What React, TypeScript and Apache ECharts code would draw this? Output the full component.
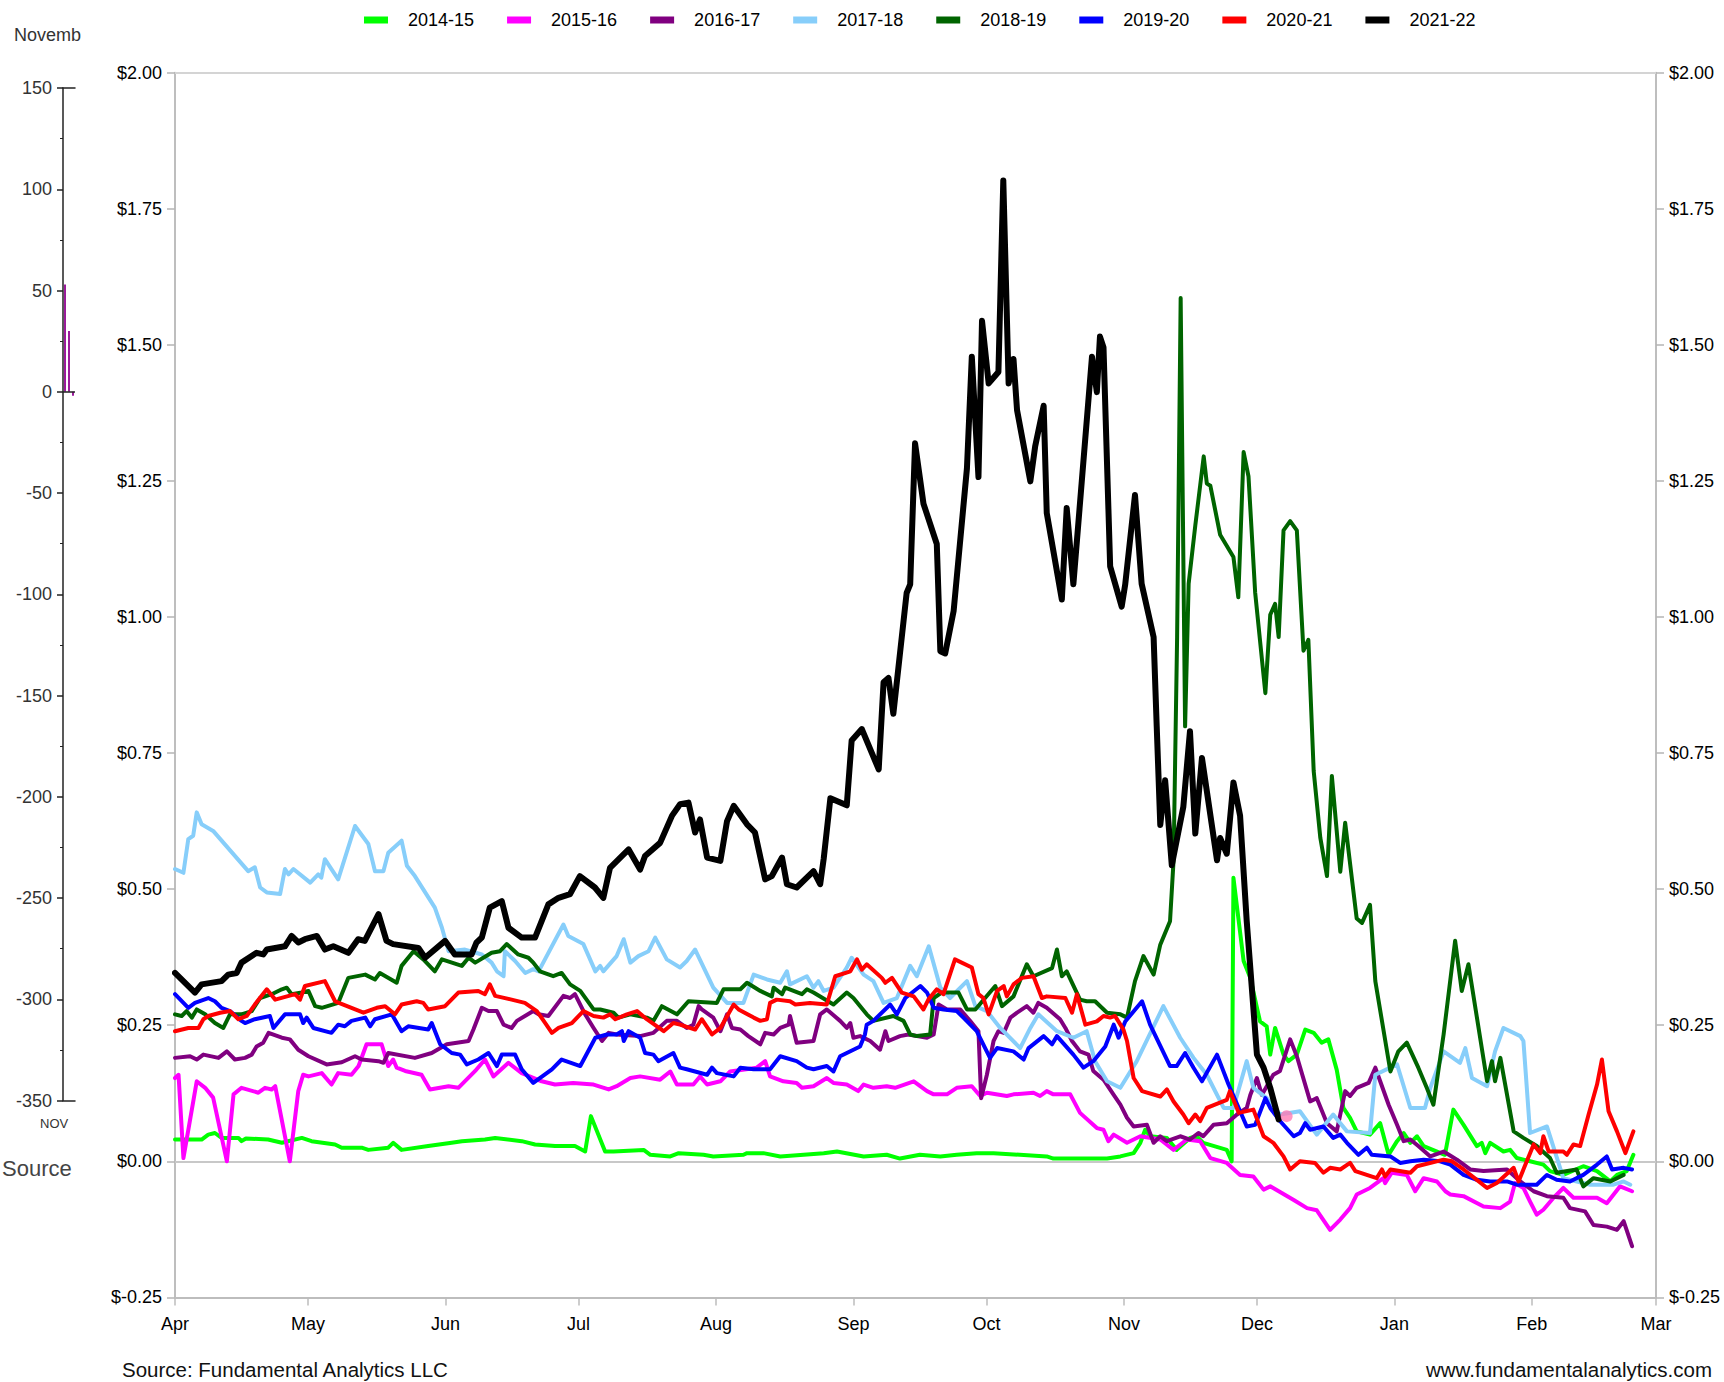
import React, { useEffect, useRef } from "react";
import * as echarts from "echarts";

// ---------- DATA ----------
// x = days since April 1 (season year), y = $ value
const monthTicks = [0, 30, 61, 91, 122, 153, 183, 214, 244, 275, 306, 334];
const monthLabels = ["Apr", "May", "Jun", "Jul", "Aug", "Sep", "Oct", "Nov", "Dec", "Jan", "Feb", "Mar"];

const seasonNames = ["2014-15", "2015-16", "2016-17", "2017-18", "2018-19", "2019-20", "2020-21", "2021-22"];
const seasonColors = ["#00ff00", "#ff00ff", "#800080", "#87cefa", "#006400", "#0000ff", "#ff0000", "#000000"];

const s1415 = [[0,0.040],[6,0.040],[7.5,0.049],[9,0.052],[10.5,0.043],[14.3,0.043],[15,0.037],[16,0.042],[21,0.040],[24.1,0.034],[28.6,0.043],[30.8,0.037],[36.1,0.031],[37.6,0.025],[42.1,0.025],[43.6,0.021],[48.1,0.025],[49.2,0.034],[51.1,0.021],[57.1,0.028],[62.4,0.034],[64.7,0.037],[69.9,0.040],[72.2,0.043],[78.2,0.037],[81.2,0.031],[85.7,0.028],[90.2,0.028],[92.5,0.018],[93.8,0.083],[97,0.018],[98.9,0.018],[105.7,0.021],[107.2,0.012],[111.7,0.009],[113.6,0.015],[119.2,0.012],[121.4,0.009],[128.2,0.012],[129,0.015],[132.7,0.015],[136.5,0.009],[146.3,0.015],[149.3,0.018],[155.3,0.009],[160.5,0.012],[163.5,0.005],[168,0.012],[172.6,0.009],[176.3,0.012],[180.8,0.015],[184.6,0.015],[196.6,0.009],[198.1,0.005],[210.2,0.005],[213.2,0.009],[216.2,0.015],[217.7,0.034],[218.8,0.058],[219.9,0.046],[223.7,0.043],[225.9,0.021],[228.9,0.043],[230.4,0.046],[231.9,0.034],[237.2,0.021],[238.3,0.000],[238.7,0.521],[241,0.368],[242.5,0.337],[244.7,0.257],[246.2,0.248],[247,0.196],[248.1,0.245],[250,0.196],[251.1,0.184],[253,0.196],[254.9,0.242],[256.8,0.236],[258.6,0.218],[260.1,0.224],[262,0.168],[263.5,0.098],[265,0.080],[266.5,0.055],[269.5,0.049],[271.8,0.070],[273.7,0.012],[275.6,0.037],[277.1,0.052],[278.6,0.034],[280.1,0.046],[281.6,0.028],[286.4,0.012],[288.3,0.095],[290.6,0.067],[293.6,0.028],[294.7,0.034],[295.5,0.015],[296.6,0.034],[299.6,0.018],[301.1,0.021],[302.6,0.006],[305.6,0.000],[308.6,-0.006],[310.1,-0.018],[313.1,-0.025],[317.6,-0.009],[320.7,-0.018],[323.7,-0.037],[325.2,-0.025],[327.4,-0.018],[328.9,0.012]];

const s1516 = [[0,0.153],[0.8,0.159],[1.9,0.006],[4.9,0.147],[6.8,0.135],[8.6,0.117],[11.7,0.000],[13.2,0.123],[15,0.135],[18.8,0.126],[20.3,0.135],[21.8,0.132],[22.6,0.138],[25.9,0.000],[27.8,0.129],[28.9,0.159],[30.1,0.156],[33.1,0.162],[35.3,0.141],[36.8,0.162],[39.8,0.159],[41.4,0.175],[43.2,0.215],[46.6,0.215],[48.1,0.175],[49.2,0.187],[50,0.172],[51.9,0.166],[55.6,0.159],[57.5,0.132],[61.7,0.138],[63.9,0.135],[67.7,0.166],[69.9,0.187],[71.8,0.156],[75.2,0.181],[78.2,0.162],[82.7,0.147],[85.7,0.141],[89.8,0.144],[94.4,0.141],[97.8,0.132],[99.6,0.138],[102.7,0.153],[104.9,0.156],[109.4,0.150],[111.7,0.165],[113.2,0.141],[116.9,0.141],[118.4,0.156],[120,0.141],[123,0.147],[125.2,0.165],[131.2,0.172],[133.1,0.184],[134.2,0.156],[137.2,0.147],[140.2,0.144],[141.4,0.135],[144,0.138],[147,0.153],[148.5,0.144],[151.5,0.141],[154.1,0.129],[155.3,0.141],[157.5,0.135],[160.5,0.138],[162.4,0.135],[166.6,0.147],[169.6,0.129],[171.1,0.123],[174.1,0.123],[176.3,0.135],[179.7,0.138],[181.6,0.120],[183.1,0.126],[187.6,0.120],[189.1,0.123],[193.6,0.126],[195.1,0.120],[196.6,0.129],[198.1,0.123],[201.9,0.123],[204.1,0.089],[207.9,0.061],[209.4,0.058],[210.5,0.037],[211.7,0.049],[214.7,0.034],[217.7,0.046],[222.2,0.040],[225.2,0.021],[228.2,0.040],[231.2,0.037],[233.5,0.006],[237.2,-0.003],[240.2,-0.025],[243.2,-0.028],[245.5,-0.052],[247,-0.046],[252.3,-0.071],[255.3,-0.086],[257.5,-0.090],[260.5,-0.126],[262.8,-0.107],[265,-0.086],[266.5,-0.061],[269.5,-0.049],[272.5,-0.031],[272.9,-0.040],[274.4,-0.021],[277.8,-0.025],[279.7,-0.055],[281.6,-0.031],[284.6,-0.037],[286.5,-0.055],[287.6,-0.061],[290.6,-0.064],[295.1,-0.083],[298.9,-0.086],[301.1,-0.074],[302.2,-0.040],[304.1,-0.049],[305.6,-0.074],[307.1,-0.098],[308.6,-0.089],[310.9,-0.067],[313.1,-0.049],[315.4,-0.067],[320.7,-0.067],[322.9,-0.077],[325.9,-0.046],[328.6,-0.055]];

const s1617 = [[0,0.190],[3.4,0.193],[4.9,0.187],[6.4,0.196],[9.8,0.190],[11.7,0.202],[13.5,0.187],[15.8,0.190],[17.3,0.196],[18.4,0.211],[19.9,0.218],[21.1,0.236],[24.1,0.227],[25.9,0.224],[27.8,0.205],[30.1,0.193],[34.2,0.178],[37.6,0.182],[40.6,0.193],[42.1,0.187],[45.9,0.184],[47,0.181],[48.1,0.199],[54.1,0.190],[57.9,0.199],[61.3,0.215],[66.2,0.221],[67.3,0.242],[69.2,0.282],[70.7,0.276],[72.6,0.276],[74.1,0.251],[75.9,0.245],[77.1,0.258],[80.8,0.276],[82,0.270],[84.2,0.267],[87.6,0.304],[89.1,0.300],[90.2,0.307],[92.5,0.270],[94.4,0.245],[96.3,0.221],[97.8,0.236],[99.6,0.233],[104.9,0.230],[107.9,0.236],[110.9,0.258],[113.2,0.258],[115.4,0.245],[116.9,0.251],[118.1,0.285],[118.8,0.279],[121.4,0.264],[123,0.239],[124.5,0.270],[125.6,0.245],[127.5,0.242],[129.3,0.230],[132,0.215],[133.1,0.236],[135,0.233],[136.5,0.245],[138.4,0.251],[138.7,0.267],[140.2,0.218],[144,0.221],[145.5,0.270],[147,0.279],[150,0.258],[151.5,0.245],[152.3,0.254],[153,0.227],[154.5,0.230],[156.8,0.221],[159,0.205],[160.2,0.239],[160.9,0.221],[163.5,0.230],[165.4,0.233],[169.6,0.227],[171.1,0.233],[172.2,0.288],[174.1,0.279],[177.1,0.279],[179.3,0.258],[181.2,0.239],[181.8,0.116],[183.1,0.159],[184.6,0.221],[185.7,0.239],[186.9,0.236],[188.4,0.264],[189.9,0.273],[192.1,0.285],[193.6,0.273],[194.7,0.291],[196.6,0.282],[199.6,0.261],[200.8,0.245],[202.3,0.221],[204.1,0.202],[206,0.196],[207.1,0.166],[209.4,0.150],[211.7,0.122],[213.2,0.104],[214.7,0.080],[216.2,0.064],[219.2,0.067],[220.7,0.034],[222.2,0.046],[223.7,0.037],[226.7,0.046],[228.9,0.040],[230.8,0.052],[231.9,0.046],[234.2,0.067],[237.2,0.070],[239.5,0.086],[241.7,0.098],[242.5,0.122],[244,0.153],[245.1,0.122],[247.7,0.159],[249.2,0.166],[251.5,0.224],[253,0.193],[256,0.110],[257.5,0.116],[259.8,0.070],[262,0.055],[263.9,0.129],[265,0.120],[266.5,0.135],[269.2,0.144],[270.7,0.172],[271.8,0.147],[273.7,0.104],[275.6,0.067],[277.1,0.037],[278.6,0.040],[280.4,0.028],[283.1,0.009],[286.1,0.018],[289.1,0.003],[292.1,-0.015],[295.1,-0.018],[300.4,-0.015],[303.4,-0.037],[306.4,-0.055],[309.4,-0.064],[313.1,-0.067],[314.6,-0.086],[318,-0.092],[319.9,-0.117],[322.9,-0.120],[325.2,-0.126],[326.7,-0.110],[328.6,-0.156]];

const s1718 = [[0,0.537],[1.9,0.530],[3,0.592],[4.1,0.598],[4.9,0.641],[6,0.619],[8.6,0.607],[16.5,0.533],[18,0.540],[19.2,0.503],[20.7,0.494],[23.7,0.491],[24.8,0.537],[25.6,0.527],[26.7,0.537],[30.5,0.512],[32.3,0.527],[33,0.521],[33.8,0.555],[36.8,0.518],[40.6,0.616],[43.6,0.583],[45.1,0.533],[47,0.533],[48.1,0.567],[51.1,0.589],[52.3,0.543],[54.1,0.524],[58.6,0.466],[60.2,0.429],[61.7,0.386],[65.4,0.389],[69.2,0.380],[71.4,0.365],[72.6,0.349],[74.1,0.340],[74.4,0.386],[76.7,0.368],[79,0.346],[80.8,0.353],[82,0.349],[87.6,0.435],[88.7,0.414],[92.1,0.399],[94.8,0.349],[95.9,0.359],[96.6,0.349],[99.6,0.377],[101.2,0.408],[102.7,0.365],[104.5,0.377],[106.8,0.386],[108.3,0.411],[110.9,0.371],[113.9,0.356],[115.4,0.368],[117.3,0.389],[121.4,0.319],[124.5,0.291],[128.2,0.291],[130.5,0.343],[133.5,0.334],[136.5,0.328],[138,0.349],[138.7,0.325],[142.5,0.340],[144,0.319],[145.1,0.331],[146.3,0.313],[148.5,0.319],[151.5,0.356],[152.6,0.374],[155.3,0.343],[157.5,0.331],[159.8,0.291],[162.8,0.300],[165.8,0.359],[167.3,0.340],[170,0.395],[172.6,0.319],[174.8,0.300],[178.6,0.331],[180.5,0.285],[183.1,0.276],[186.1,0.245],[190.6,0.208],[192.9,0.245],[194.7,0.270],[198.9,0.239],[202.6,0.227],[205.6,0.239],[207.5,0.184],[210.2,0.147],[213.2,0.135],[216.9,0.184],[222.9,0.285],[226.7,0.227],[229.7,0.190],[232.7,0.159],[236.5,0.098],[238.7,0.098],[241.7,0.184],[243.2,0.135],[246.2,0.116],[249.2,0.086],[253.7,0.092],[257.5,0.049],[261.2,0.086],[264.3,0.055],[269.5,0.052],[270.7,0.159],[275.6,0.178],[278.6,0.098],[281.9,0.098],[283.1,0.135],[286.1,0.202],[289.8,0.181],[291,0.208],[292.5,0.153],[295.9,0.138],[297.7,0.202],[299.6,0.245],[303.4,0.230],[304.1,0.221],[305.6,0.052],[309.4,0.064],[313.1,-0.031],[319.2,-0.043],[324.4,-0.043],[326.7,-0.037],[328.2,-0.043]];

const s1819 = [[0,0.270],[1.5,0.267],[2.6,0.276],[3.8,0.264],[4.9,0.279],[6.8,0.270],[9,0.254],[10.9,0.245],[12.4,0.270],[15,0.270],[17.3,0.276],[19.2,0.300],[21.8,0.307],[24.1,0.316],[25.2,0.319],[26.3,0.307],[28.6,0.310],[30.1,0.313],[31.6,0.285],[33.1,0.282],[36.8,0.291],[39.1,0.337],[42.9,0.343],[45.1,0.334],[46.2,0.346],[50,0.328],[51.1,0.359],[53.8,0.386],[56,0.371],[58.6,0.349],[60.2,0.371],[64.7,0.359],[66.2,0.374],[67.7,0.365],[71.4,0.383],[73.3,0.386],[74.8,0.399],[77.4,0.380],[79.7,0.374],[80.8,0.365],[82.3,0.349],[85.3,0.340],[87.2,0.346],[89.1,0.325],[91.4,0.313],[94.4,0.279],[95.9,0.279],[98.9,0.273],[100,0.264],[102.7,0.270],[106.4,0.264],[107.9,0.258],[109.8,0.285],[113.2,0.270],[115.8,0.294],[122.2,0.291],[123.7,0.316],[127.5,0.316],[129,0.328],[132,0.313],[134.6,0.303],[135,0.319],[136.9,0.307],[137.6,0.319],[141.4,0.307],[142.5,0.316],[144,0.310],[148.5,0.288],[151.5,0.310],[153,0.300],[156,0.270],[157.5,0.258],[162,0.267],[164.3,0.258],[165.8,0.233],[167.3,0.230],[170.3,0.233],[171.1,0.300],[172.9,0.310],[176.7,0.310],[178.6,0.279],[180.5,0.279],[182.7,0.300],[185,0.322],[186.5,0.285],[189.1,0.303],[192.1,0.362],[193.6,0.340],[197.8,0.355],[198.9,0.389],[200,0.340],[201.1,0.349],[204.1,0.297],[205.6,0.294],[207.5,0.294],[210.2,0.273],[213.2,0.270],[214.7,0.264],[216.5,0.331],[218.4,0.377],[220.7,0.343],[222.2,0.398],[224.4,0.441],[225.2,0.553],[226,0.963],[226.8,1.586],[227.8,0.799],[228.6,1.061],[230.1,1.168],[232,1.295],[232.7,1.245],[233.5,1.241],[235.7,1.151],[238.7,1.110],[239.8,1.036],[241,1.303],[242.1,1.258],[243.6,1.045],[245.9,0.860],[247,1.004],[248.1,1.024],[248.9,0.963],[250,1.159],[251.5,1.176],[253,1.159],[254.5,0.938],[255.6,0.958],[256.8,0.717],[258.3,0.594],[259.8,0.524],[260.9,0.708],[262.8,0.532],[263.9,0.622],[266.5,0.446],[267.7,0.438],[269.5,0.471],[270.7,0.331],[274.1,0.165],[275.9,0.202],[277.8,0.218],[280.4,0.172],[282.3,0.135],[283.8,0.104],[286.1,0.233],[288.7,0.405],[290.2,0.313],[291.7,0.362],[295.9,0.147],[297,0.184],[297.7,0.147],[298.9,0.190],[301.9,0.055],[304.1,0.043],[307.1,0.028],[310.1,0.006],[311.6,-0.021],[316.1,-0.015],[317.6,-0.046],[319.9,-0.031],[323.7,-0.037],[326.7,-0.025]];

const s1920 = [[0,0.307],[3,0.282],[4.5,0.291],[7.5,0.300],[9,0.294],[10.5,0.282],[12.4,0.276],[15,0.258],[15.8,0.254],[18,0.261],[21.4,0.267],[22.2,0.245],[24.8,0.270],[28.2,0.270],[28.9,0.254],[29.7,0.264],[31.2,0.245],[35.3,0.236],[36.8,0.251],[38.3,0.248],[39.8,0.258],[42.9,0.264],[44,0.248],[45.1,0.261],[48.9,0.270],[51.1,0.239],[52.6,0.248],[57.1,0.242],[57.9,0.254],[59.8,0.215],[62.4,0.199],[64.3,0.196],[65.8,0.178],[68.4,0.187],[70.7,0.199],[72.6,0.175],[73.7,0.196],[76.7,0.196],[78.2,0.169],[80.8,0.144],[85,0.169],[87.2,0.187],[91.4,0.175],[94.8,0.227],[97.4,0.233],[99.6,0.233],[100.8,0.239],[101.2,0.221],[102.3,0.239],[104.9,0.227],[106,0.199],[107.9,0.196],[109,0.184],[112.4,0.199],[113.9,0.172],[115.4,0.169],[120,0.159],[121.1,0.172],[122.2,0.162],[126,0.156],[127.5,0.172],[130.5,0.169],[134.2,0.169],[136.5,0.193],[140.2,0.184],[142.5,0.172],[144,0.169],[147,0.175],[148.5,0.165],[150,0.193],[151.5,0.199],[154.5,0.211],[155.6,0.233],[156,0.251],[157.5,0.258],[161.3,0.288],[162.8,0.270],[164.7,0.300],[168.1,0.322],[169.6,0.310],[171.1,0.282],[173.3,0.279],[176.3,0.276],[177.8,0.264],[180.8,0.239],[183.8,0.190],[185.4,0.208],[189.1,0.202],[191.4,0.187],[192.5,0.208],[195.9,0.230],[197.8,0.215],[198.9,0.230],[202.6,0.196],[204.9,0.172],[207.1,0.184],[209.8,0.211],[211.7,0.251],[212.8,0.227],[214.3,0.257],[218.1,0.294],[219.9,0.251],[224.4,0.175],[225.9,0.175],[227.8,0.199],[229.7,0.172],[231.6,0.147],[235,0.196],[237.6,0.141],[241.7,0.064],[243.6,0.067],[245.9,0.116],[247,0.098],[249.2,0.074],[252.3,0.046],[253.7,0.052],[254.9,0.070],[256,0.058],[259,0.064],[261.2,0.043],[262.8,0.049],[264.3,0.034],[266.9,0.012],[268.8,0.025],[269.9,0.012],[274.1,0.009],[276.3,-0.003],[278.6,0.000],[281.6,0.003],[285.3,0.000],[287.6,-0.006],[290.6,-0.025],[293.6,-0.034],[296.6,-0.037],[300.4,-0.037],[302.6,-0.043],[307.1,-0.043],[309.4,-0.025],[311.6,-0.034],[314.6,-0.037],[317.6,-0.025],[320.7,-0.006],[322.9,0.009],[324.1,-0.015],[326.7,-0.012],[328.6,-0.015]];

const s2021 = [[0,0.239],[3,0.245],[5.3,0.245],[6.4,0.261],[7.5,0.267],[10.2,0.273],[12.4,0.276],[14.3,0.261],[16.2,0.267],[18,0.288],[20.7,0.316],[22.6,0.297],[27.1,0.307],[28.2,0.297],[29.3,0.322],[33.8,0.331],[36.1,0.294],[39.8,0.282],[42.5,0.273],[45.5,0.282],[47.4,0.285],[49.6,0.270],[51.1,0.288],[54.5,0.294],[56,0.291],[57.1,0.279],[60.9,0.285],[63.9,0.310],[68.4,0.313],[69.9,0.307],[71,0.325],[72.2,0.304],[75.9,0.297],[78.9,0.291],[81.6,0.276],[83.5,0.254],[85,0.236],[86.5,0.245],[89.5,0.254],[92.1,0.276],[94.4,0.267],[96.6,0.264],[98.1,0.270],[99.3,0.261],[101.9,0.270],[104.2,0.276],[106.4,0.261],[110.2,0.239],[112.4,0.254],[113.9,0.251],[117.3,0.242],[118.8,0.261],[121.1,0.233],[123,0.245],[126,0.288],[127.1,0.279],[130.5,0.264],[132,0.258],[133.5,0.261],[134.2,0.291],[135.7,0.297],[138.7,0.294],[139.9,0.288],[143.2,0.291],[147,0.288],[148.9,0.340],[152.3,0.349],[153.8,0.371],[154.9,0.352],[156,0.362],[159.4,0.337],[160.2,0.328],[161.7,0.337],[163.9,0.310],[166.6,0.303],[168.8,0.279],[169.9,0.297],[171.8,0.316],[173.3,0.307],[175.9,0.371],[179.7,0.356],[181.2,0.307],[182.3,0.300],[183.5,0.270],[185.4,0.313],[186.9,0.322],[187.6,0.303],[189.1,0.325],[191,0.337],[193.6,0.340],[195.5,0.300],[196.6,0.303],[200.8,0.300],[202.3,0.273],[203.4,0.307],[205.3,0.251],[207.9,0.257],[209.4,0.267],[210.9,0.264],[212,0.267],[213.9,0.242],[214.7,0.221],[216.2,0.153],[218.1,0.129],[222.2,0.119],[223.7,0.132],[225.2,0.110],[227.4,0.086],[228.6,0.070],[230.1,0.086],[231.2,0.074],[232.7,0.098],[237.2,0.113],[237.9,0.129],[239.9,0.089],[243.2,0.095],[245.5,0.046],[247.7,0.034],[250,0.009],[251.5,-0.015],[253.7,0.000],[257.1,-0.003],[259,-0.021],[260.5,-0.012],[262.8,-0.015],[265,-0.003],[266.2,-0.018],[271,-0.031],[272.2,-0.015],[272.9,-0.028],[274.1,-0.015],[278.6,-0.021],[280.1,-0.009],[286.1,0.003],[288,0.000],[290.6,-0.015],[293.6,-0.034],[295.9,-0.049],[298.1,-0.040],[301.9,-0.012],[303,-0.037],[306.4,0.031],[307.9,0.015],[308.6,0.046],[309.8,0.018],[313.1,0.018],[313.9,0.012],[315.4,0.031],[316.9,0.028],[318.8,0.086],[320.7,0.141],[321.8,0.187],[323.3,0.092],[325.2,0.055],[327.1,0.015],[328.9,0.055]];

const s2122 = [[0,0.346],[4.5,0.310],[6,0.325],[10.5,0.331],[12,0.343],[13.9,0.346],[15,0.365],[18.4,0.383],[19.9,0.380],[20.7,0.389],[24.8,0.395],[26.3,0.414],[27.8,0.402],[29.3,0.408],[32,0.414],[33.8,0.389],[35.7,0.395],[39.1,0.383],[41.3,0.408],[42.8,0.405],[45.9,0.454],[47.7,0.405],[49.2,0.399],[54.9,0.392],[56.4,0.374],[60.9,0.405],[63.1,0.380],[66.9,0.380],[68,0.402],[69.2,0.411],[71,0.466],[73.7,0.478],[75.2,0.429],[78.2,0.411],[81.2,0.411],[84.2,0.472],[86.5,0.484],[89.1,0.491],[91.3,0.524],[94.7,0.503],[96.6,0.484],[98.1,0.539],[102.3,0.573],[104.9,0.536],[106,0.561],[109.4,0.585],[112.1,0.635],[113.9,0.656],[115.8,0.659],[117.3,0.604],[118.4,0.628],[120,0.558],[123,0.552],[124.5,0.625],[126,0.653],[129,0.619],[130.8,0.604],[133.1,0.518],[134.6,0.524],[136.9,0.558],[138,0.509],[140.2,0.503],[144,0.533],[145.5,0.509],[146.3,0.556],[147.8,0.667],[151.5,0.654],[152.6,0.773],[154.9,0.794],[158.7,0.720],[159.8,0.880],[160.9,0.888],[162,0.822],[165,1.044],[165.8,1.060],[166.9,1.319],[168.8,1.208],[171.8,1.134],[172.6,0.937],[173.7,0.933],[175.6,1.011],[178.6,1.273],[179.7,1.478],[181.2,1.257],[182,1.544],[183.5,1.429],[185.7,1.450],[186.8,1.802],[188,1.429],[189.1,1.474],[189.9,1.380],[192.9,1.249],[194,1.314],[195.9,1.388],[196.6,1.191],[200,1.032],[201.1,1.200],[202.6,1.060],[206.8,1.478],[207.9,1.413],[208.6,1.515],[209.4,1.495],[210.9,1.093],[213.5,1.019],[214.3,1.060],[216.5,1.224],[218,1.061],[220.7,0.963],[221.4,0.799],[222.2,0.618],[223.3,0.700],[224.8,0.544],[227.4,0.651],[228.9,0.790],[230.1,0.602],[231.6,0.741],[235,0.553],[235.7,0.594],[237.2,0.565],[238.7,0.696],[240.2,0.635],[241.7,0.441],[244,0.196],[245.5,0.172],[247,0.135],[248.9,0.077]];

const latestMarker = [[250.7, 0.083]];

// clipped inset panel on the left
const insetCategories = ["a", "b", "c"];
const insetValues = [53, 30, -2];

const seasonData = [s1415, s1516, s1617, s1718, s1819, s1920, s2021, s2122];

const FONT = "'Liberation Sans', Arial, Helvetica, sans-serif";

export default function App() {
  const ref = useRef<HTMLDivElement>(null);

  useEffect(() => {
    if (!ref.current) return;
    const chart = echarts.init(ref.current, undefined, { renderer: "svg" });

    const lineSeries = seasonNames.map((name, i) => ({
      name,
      type: "line",
      xAxisIndex: 0,
      yAxisIndex: 0,
      data: seasonData[i],
      symbol: "none",
      showSymbol: false,
      z: 3 + i,
      itemStyle: { color: seasonColors[i] },
      lineStyle: {
        color: seasonColors[i],
        width: i === 7 ? 6 : 4,
        cap: "round",
        join: "round",
      },
      ...(i === 0
        ? {
            markLine: {
              silent: true,
              symbol: "none",
              label: { show: false },
              z: 1,
              data: [
                { yAxis: 0, lineStyle: { color: "#c8c8c8", width: 2, type: "solid" } },
                { yAxis: 2, lineStyle: { color: "#d4d4d4", width: 2, type: "solid" } },
              ],
            },
          }
        : {}),
    }));

    const mainYAxis = (position: string) => ({
      gridIndex: 0,
      type: "value",
      position,
      min: -0.25,
      max: 2,
      interval: 0.25,
      axisLine: { show: true, lineStyle: { color: "#a8a8a8", width: 1.5 } },
      axisTick: { show: true, length: 8, lineStyle: { color: "#b4b4b4", width: 1.5 } },
      axisLabel: {
        fontSize: 18,
        color: "#000",
        fontFamily: FONT,
        margin: 13,
        formatter: (v: number) => "$" + v.toFixed(2),
      },
      splitLine: { show: false },
    });

    const option = {
      animation: false,
      backgroundColor: "#ffffff",
      textStyle: { fontFamily: FONT },
      legend: {
        data: seasonNames,
        left: 359,
        top: 6,
        itemWidth: 24,
        itemHeight: 7,
        itemGap: 33,
        icon: "rect",
        textStyle: { fontSize: 18, color: "#000", fontFamily: FONT, padding: [0, 0, 0, 15] },
      },
      grid: [
        { left: 175, right: 68, top: 72.6, bottom: 84.6, outerBoundsMode: "none" },
        { left: 63, width: 12, top: 88, height: 1012.6, outerBoundsMode: "none" },
      ],
      xAxis: [
        {
          gridIndex: 0,
          type: "value",
          min: 0,
          max: 334,
          axisLine: { show: true, onZero: false, lineStyle: { color: "#bdbdbd", width: 2 } },
          axisTick: { show: true, customValues: monthTicks, length: 8, lineStyle: { color: "#bdbdbd", width: 1.5 } },
          axisLabel: {
            customValues: monthTicks,
            fontSize: 18,
            color: "#000",
            fontFamily: FONT,
            margin: 18,
            formatter: (v: number) => {
              const k = monthTicks.indexOf(Math.round(v));
              return k >= 0 ? monthLabels[k] : "";
            },
          },
          splitLine: { show: false },
        },
        {
          gridIndex: 1,
          type: "category",
          data: insetCategories,
          position: "bottom",
          axisLine: { show: true, onZero: false, lineStyle: { color: "#222", width: 1.5 } },
          axisTick: { show: false },
          axisLabel: { show: false },
        },
        {
          gridIndex: 1,
          type: "category",
          data: insetCategories,
          position: "top",
          axisLine: { show: true, onZero: false, lineStyle: { color: "#222", width: 1.5 } },
          axisTick: { show: false },
          axisLabel: { show: false },
        },
      ],
      yAxis: [
        mainYAxis("left"),
        mainYAxis("right"),
        {
          gridIndex: 1,
          type: "value",
          min: -350,
          max: 150,
          interval: 50,
          axisLine: { show: true, lineStyle: { color: "#222", width: 1.5 } },
          axisTick: { show: true, length: 6, lineStyle: { color: "#222", width: 1.5 } },
          minorTick: { show: true, splitNumber: 2, length: 3, lineStyle: { color: "#222", width: 1 } },
          axisLabel: { fontSize: 18, color: "#333", fontFamily: FONT, margin: 11 },
          splitLine: { show: false },
          minorSplitLine: { show: false },
        },
      ],
      series: [
        ...lineSeries,
        {
          name: "latest",
          type: "scatter",
          xAxisIndex: 0,
          yAxisIndex: 0,
          data: latestMarker,
          symbolSize: 12,
          z: 20,
          itemStyle: { color: "#ff7cb4" },
        },
        {
          name: "inset",
          type: "bar",
          xAxisIndex: 1,
          yAxisIndex: 2,
          data: insetValues,
          barWidth: 2,
          itemStyle: { color: "#9b1b9b" },
          markLine: {
            silent: true,
            symbol: "none",
            label: { show: false },
            lineStyle: { color: "#222", width: 1.5, type: "solid" },
            data: [{ yAxis: 0 }],
          },
        },
      ],
      graphic: [
        { type: "text", x: 122, y: 1369, style: { text: "Source: Fundamental Analytics LLC", fontSize: 20.5, fill: "#111", fontFamily: FONT, align: "left", verticalAlign: "middle" } },
        { type: "text", x: 1712, y: 1369, style: { text: "www.fundamentalanalytics.com", fontSize: 20.5, fill: "#111", fontFamily: FONT, align: "right", verticalAlign: "middle" } },
        { type: "text", x: 14, y: 35, style: { text: "Novemb", fontSize: 18, fill: "#333", fontFamily: FONT, align: "left", verticalAlign: "middle" } },
        { type: "text", x: 40, y: 1123, style: { text: "NOV", fontSize: 13, fill: "#333", fontFamily: FONT, align: "left", verticalAlign: "middle" } },
        { type: "text", x: 2, y: 1168, style: { text: "Sources", fontSize: 22, fill: "#444", fontFamily: FONT, align: "left", verticalAlign: "middle", width: 73, overflow: "truncate", ellipsis: "" } },
      ],
    };

    chart.setOption(option as any);
    return () => chart.dispose();
  }, []);

  return (
    <div
      ref={ref}
      style={{ position: "absolute", left: 0, top: 0, width: 1724, height: 1382, background: "#fff" }}
    />
  );
}
